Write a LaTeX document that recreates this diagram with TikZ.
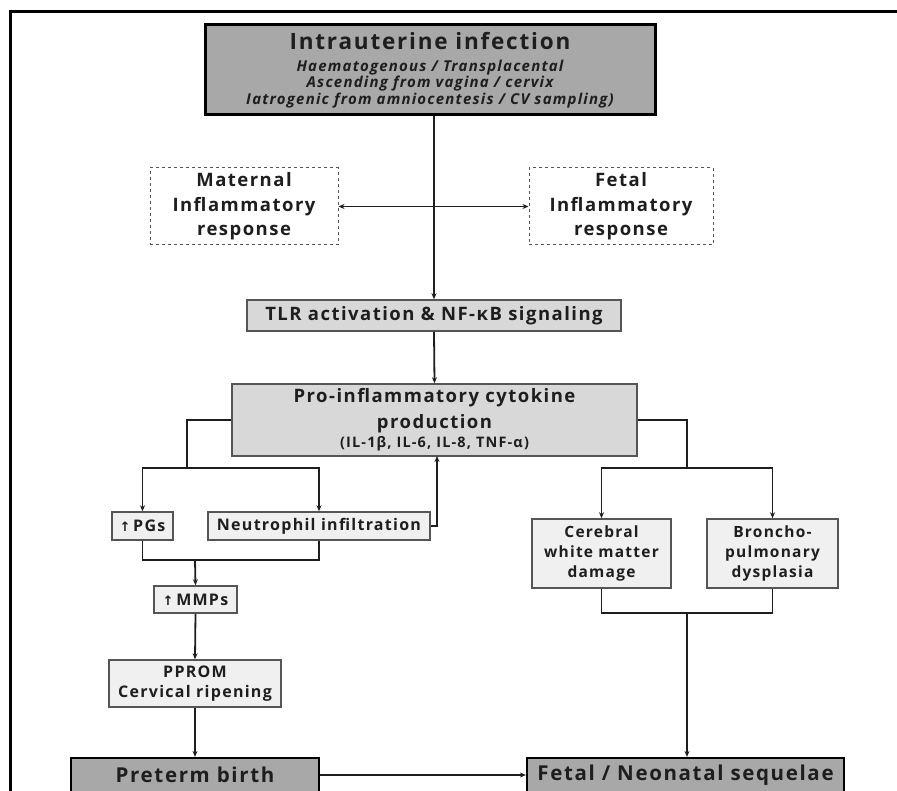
\documentclass[tikz,border=0pt]{standalone}
\usepackage{fontspec}
\setmainfont{Open Sans}[LetterSpace=8]
\newfontfamily\arrowfont{DejaVu Sans}
\usetikzlibrary{arrows.meta}
\definecolor{darkfill}{HTML}{A8A8A8}
\definecolor{midfill}{HTML}{D8D8D8}
\definecolor{lightfill}{HTML}{F0F0F0}
\definecolor{edgegray}{HTML}{555555}
\definecolor{ink}{HTML}{1E1E1E}
\newcommand{\uparr}{{\arrowfont\fontsize{13}{13}\selectfont\char"2191}}
\tikzset{
  box/.style={draw=edgegray, line width=1.5pt, inner sep=0pt, align=center, text=ink, font=\bfseries},
  darkbox/.style={box, draw=black, line width=2.2pt, fill=darkfill},
  midbox/.style={box, fill=midfill},
  lightbox/.style={box, fill=lightfill},
  dashbox/.style={box, dashed, draw=edgegray, line width=1pt, fill=white},
  conn/.style={line width=1.8pt, draw=ink},
  arr/.style={conn, -{Stealth[length=6pt,width=5pt]}},
  arrtwo/.style={conn, line width=1.3pt, {Stealth[length=6pt,width=5pt]}-{Stealth[length=6pt,width=5pt]}},
}
\begin{document}
\begin{tikzpicture}[x=1pt,y=-1pt]
\useasboundingbox (0,0) rectangle (897,791);
% frame
\draw[line width=3pt, black] (10,791) -- (10,12) -- (897,12);

% nodes
\node[darkbox, line width=3pt, minimum width=450pt, minimum height=90pt, font=\bfseries\fontsize{15}{16.5}\selectfont] (top) at (430,70)
  {\fontsize{22.5}{24}\selectfont Intrauterine infection\\[5pt]
   \itshape Haematogenous / Transplacental\\
   \itshape Ascending from vagina / cervix\\
   \itshape Iatrogenic from amniocentesis / CV sampling)};

\node[dashbox, minimum width=188pt, minimum height=77pt, font=\bfseries\fontsize{18.5}{24.5}\selectfont] (mat) at (244,206.5)
  {Maternal\\Inflammatory\\response};
\node[dashbox, minimum width=184pt, minimum height=77pt, font=\bfseries\fontsize{18.5}{24.5}\selectfont] (fet) at (621,206.5)
  {Fetal\\Inflammatory\\response};

\node[midbox, minimum width=374pt, minimum height=31pt, font=\bfseries\fontsize{18.5}{20}\selectfont] (tlr) at (434,315.5)
  {TLR activation \& NF-κB signaling};

\node[midbox, minimum width=405pt, minimum height=72pt, font=\bfseries\fontsize{18.5}{26}\selectfont] (pro) at (434.5,420)
  {Pro-inflammatory cytokine\\production\\[-7pt]
   \fontsize{14.5}{16}\selectfont (IL-1β, IL-6, IL-8, TNF-α)};

\node[lightbox, minimum width=61pt, minimum height=28pt, font=\bfseries\fontsize{16}{18}\selectfont] (pgs) at (142.5,526) {\uparr\,PGs};
\node[lightbox, minimum width=222pt, minimum height=28pt, font=\bfseries\fontsize{16}{18}\selectfont] (neu) at (319,526) {Neutrophil infiltration};
\node[lightbox, minimum width=83pt, minimum height=27pt, font=\bfseries\fontsize{16}{18}\selectfont] (mmp) at (195.5,599.5) {\uparr\,MMPs};
\node[lightbox, minimum width=172pt, minimum height=47pt, font=\bfseries\fontsize{16}{20}\selectfont] (pprom) at (195,683.5) {PPROM\\Cervical ripening};

\node[lightbox, minimum width=139pt, minimum height=69pt, font=\bfseries\fontsize{15.5}{20}\selectfont] (cer) at (601.5,553.5) {Cerebral\\white matter\\damage};
\node[lightbox, minimum width=131pt, minimum height=69pt, font=\bfseries\fontsize{15.5}{20}\selectfont] (bro) at (772.5,553.5) {Broncho-\\pulmonary\\dysplasia};

\node[darkbox, minimum width=248pt, minimum height=34pt, font=\bfseries\fontsize{20.5}{22}\selectfont] (pre) at (195,775) {Preterm birth};
\node[darkbox, minimum width=317pt, minimum height=34pt, font=\bfseries\fontsize{20.5}{22}\selectfont] (neo) at (685.5,775) {Fetal / Neonatal sequelae};

% junction coordinates
\coordinate (lj) at (187,468);
\coordinate (rj) at (687,468);
\coordinate (lm) at (195,560);
\coordinate (rm) at (687,613);
\coordinate (fb) at (437,456);

% connectors
\draw[arr] (top.south -| tlr.north) -- (tlr.north);
\draw[arrtwo] (mat.east) -- (fet.west);
\draw[arr] (tlr.south) -- (pro.north);

\draw[conn] (pro.west) -| (lj);
\draw[arr] (lj) -| (pgs.north);
\draw[arr] (lj) -| (neu.north);
\draw[arr] (neu.east) -| (fb);

\draw[conn] (pgs.south) |- (lm);
\draw[conn] (neu.south) |- (lm);
\draw[arr] (lm) -- (mmp.north);
\draw[arr] (mmp.south) -- (pprom.north);
\draw[arr] (pprom.south) -- (pre.north);
\draw[arr] (pre.east) -- (neo.west);

\draw[conn] (pro.east) -| (rj);
\draw[arr] (rj) -| (cer.north);
\draw[arr] (rj) -| (bro.north);
\draw[conn] (cer.south) |- (rm);
\draw[conn] (bro.south) |- (rm);
\draw[arr] (rm) -- (rm |- neo.north);
\end{tikzpicture}
\end{document}
